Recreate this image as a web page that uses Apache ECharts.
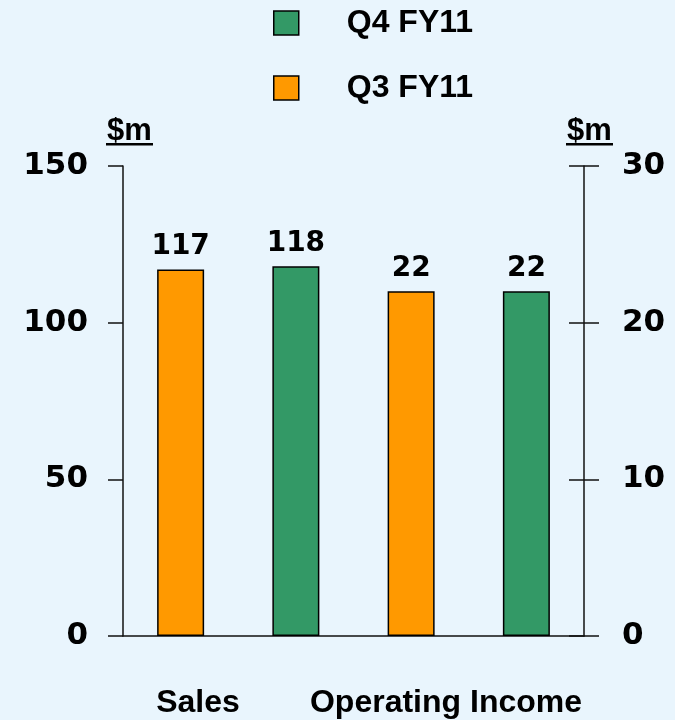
<!DOCTYPE html>
<html>
<head>
<meta charset="utf-8">
<title>Sales and Operating Income</title>
<script src="https://cdn.jsdelivr.net/npm/echarts@6/dist/echarts.min.js"></script>
<style>
  html, body { margin: 0; padding: 0; background: #E9F5FD; }
  #chart { width: 675px; height: 720px; }
</style>
</head>
<body>
<div id="chart"></div>
<script>
// Groups along the x axis and the two quarters compared in each group
const categories = ['Sales', 'Operating Income'];
const periods = ['Q4 FY11', 'Q3 FY11'];
const q3Values = [117, 22];   // Q3 FY11, $m
const q4Values = [118, 22];   // Q4 FY11, $m
// Sales reads against the left axis, Operating Income against the right one
const leftTicks = [0, 50, 100, 150];
const rightTicks = [0, 10, 20, 30];
const unitLabel = '$m';

const ORANGE = '#FF9900';
const GREEN = '#339966';
const AXIS = '#111';
const NUM_FONT = 'DejaVu Sans';
const TXT_FONT = 'Liberation Sans, Arial, sans-serif';

// One x slot per bar: Q3 then Q4 inside each group
const slots = [];
categories.forEach(c => { slots.push(c + ' Q3'); slots.push(c + ' Q4'); });

function slotData(groupIdx, quarterIdx, value) {
  const arr = slots.map(() => '-');
  arr[groupIdx * 2 + quarterIdx] = value;
  return arr;
}

const barBase = {
  type: 'bar',
  barWidth: 47,
  barGap: '-100%',
  itemStyle: { borderColor: '#000', borderWidth: 1.5 },
  label: {
    show: true,
    position: 'top',
    distance: 9,
    fontFamily: NUM_FONT,
    fontWeight: 'bold',
    fontSize: 28,
    color: '#000'
  }
};

const series = [];
categories.forEach((c, g) => {
  series.push(Object.assign({}, barBase, {
    name: periods[1], yAxisIndex: g,
    itemStyle: Object.assign({}, barBase.itemStyle, { color: ORANGE }),
    data: slotData(g, 0, q3Values[g])
  }));
  series.push(Object.assign({}, barBase, {
    name: periods[0], yAxisIndex: g,
    itemStyle: Object.assign({}, barBase.itemStyle, { color: GREEN }),
    data: slotData(g, 1, q4Values[g])
  }));
});

function valueAxis(ticks, position, margin) {
  return {
    type: 'value',
    position: position,
    min: ticks[0],
    max: ticks[ticks.length - 1],
    interval: ticks[1] - ticks[0],
    splitLine: { show: false },
    axisLine: { show: true, lineStyle: { color: AXIS, width: 1.5 } },
    axisTick: { show: true, length: 15, lineStyle: { color: AXIS, width: 1.5 } },
    axisLabel: {
      margin: margin,
      fontFamily: NUM_FONT,
      fontWeight: 'bold',
      fontSize: 31,
      color: '#000'
    }
  };
}

// Inner half of the right-hand ticks, so they cross the axis line
const rightInner = valueAxis(rightTicks, 'right', 0);
rightInner.axisLine = { show: false };
rightInner.axisLabel = { show: false };
rightInner.axisTick = { show: true, inside: true, length: 15, lineStyle: { color: AXIS, width: 1.5 } };

const chart = echarts.init(document.getElementById('chart'), null, { renderer: 'canvas' });

const unitText = (cx) => ({
  type: 'text',
  style: {
    text: unitLabel,
    x: cx, y: 147,
    align: 'center',
    verticalAlign: 'bottom',
    font: 'bold 31px ' + TXT_FONT,
    fill: '#000'
  }
});
const underline = (x0, x1) => ({
  type: 'rect',
  shape: { x: x0, y: 143, width: x1 - x0, height: 2.5 },
  style: { fill: '#000' }
});
const groupLabel = (cx, text) => ({
  type: 'text',
  style: {
    text: text,
    x: cx, y: 703,
    align: 'center',
    verticalAlign: 'middle',
    font: 'bold 32px ' + TXT_FONT,
    fill: '#000'
  }
});

chart.setOption({
  backgroundColor: '#E9F5FD',
  animation: false,
  grid: { left: 123, right: 91, top: 166, bottom: 84, containLabel: false },
  legend: {
    data: periods,
    orient: 'vertical',
    left: 268,
    top: 2,
    itemWidth: 25,
    itemHeight: 24,
    itemGap: 33,
    icon: 'rect',
    itemStyle: { borderColor: '#000', borderWidth: 1.5 },
    textStyle: {
      fontFamily: TXT_FONT,
      fontWeight: 'bold',
      fontSize: 32,
      color: '#000',
      padding: [0, 0, 0, 43]
    }
  },
  xAxis: {
    type: 'category',
    data: slots,
    axisLine: { show: true, lineStyle: { color: AXIS, width: 1.5 } },
    axisTick: { show: false },
    axisLabel: { show: false }
  },
  yAxis: [
    valueAxis(leftTicks, 'left', 35),
    valueAxis(rightTicks, 'right', 38),
    rightInner
  ],
  series: series,
  graphic: [
    unitText(129.5), underline(106, 153),
    unitText(589.5), underline(566, 613),
    groupLabel(198, categories[0]),
    groupLabel(446, categories[1])
  ]
});
</script>
</body>
</html>
